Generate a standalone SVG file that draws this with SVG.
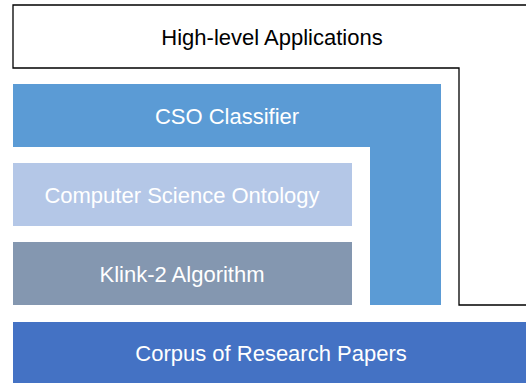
<svg xmlns="http://www.w3.org/2000/svg" width="526" height="383" viewBox="0 0 526 383">
<style>
text{font-family:"Liberation Sans",Arial,sans-serif;font-size:22px;text-anchor:middle}
.w{fill:#fff}
</style>
<rect width="526" height="383" fill="#fff"/>
<g id="apps">
<path d="M527,5 H13 V68 H459 V305 H527" fill="#fff" stroke="#000" stroke-width="1.3"/>
<text x="272" y="45" fill="#000">High-level Applications</text>
</g>
<g id="cso">
<path d="M13,84 H441 V305 H370 V147 H13 Z" fill="#5B9BD5"/>
<text class="w" x="227" y="124">CSO Classifier</text>
</g>
<g id="ontology">
<rect x="13" y="163" width="339" height="63" fill="#B4C7E7"/>
<text class="w" x="182" y="203">Computer Science Ontology</text>
</g>
<g id="klink">
<rect x="13" y="242" width="339" height="63" fill="#8497B0"/>
<text class="w" x="182" y="282">Klink-2 Algorithm</text>
</g>
<g id="corpus">
<rect x="13" y="322" width="513" height="61" fill="#4472C4"/>
<text class="w" x="271" y="361">Corpus of Research Papers</text>
</g>
<g id="connectors"/>
</svg>
